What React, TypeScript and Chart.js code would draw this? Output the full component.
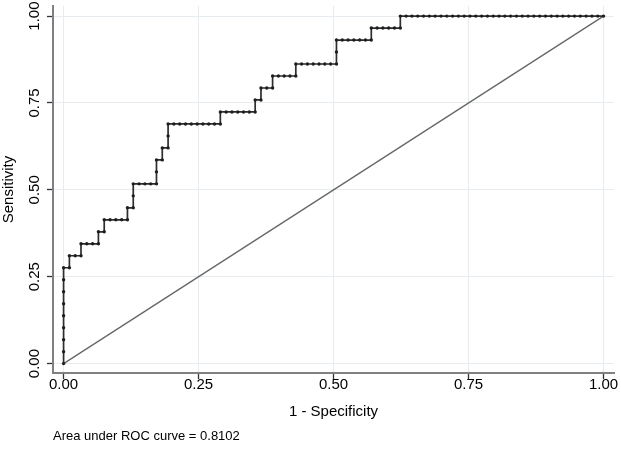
import React, { useEffect, useRef } from 'react';
import { Chart, registerables } from 'chart.js';

Chart.register(...registerables);

// ROC data: counts of false positives (out of 93 negatives) and true positives (out of 29 positives)
const N_NEG = 93;
const N_POS = 29;

const falsePositives = [
  0, 0, 0, 0, 0, 0, 0, 0, 0,
  1, 1,
  2, 3, 3,
  4, 5, 6, 6,
  7, 7,
  8, 9, 10, 11, 11,
  12, 12, 12,
  13, 14, 15, 16, 16, 16,
  17, 17,
  18, 18, 18,
  19, 20, 21, 22, 23, 24, 25, 26, 27, 27,
  28, 29, 30, 31, 32, 33, 33,
  34, 34,
  35, 36, 36,
  37, 38, 39, 40, 40,
  41, 42, 43, 44, 45, 46, 47, 47, 47,
  48, 49, 50, 51, 52, 53, 53,
  54, 55, 56, 57, 58, 58,
  59, 60, 61, 62, 63, 64, 65, 66, 67, 68, 69, 70, 71, 72, 73, 74, 75, 76, 77, 78,
  79, 80, 81, 82, 83, 84, 85, 86, 87, 88, 89, 90, 91, 92, 93,
];

const truePositives = [
  0, 1, 2, 3, 4, 5, 6, 7, 8,
  8, 9,
  9, 9, 10,
  10, 10, 10, 11,
  11, 12,
  12, 12, 12, 12, 13,
  13, 14, 15,
  15, 15, 15, 15, 16, 17,
  17, 18,
  18, 19, 20,
  20, 20, 20, 20, 20, 20, 20, 20, 20, 21,
  21, 21, 21, 21, 21, 21, 22,
  22, 23,
  23, 23, 24,
  24, 24, 24, 24, 25,
  25, 25, 25, 25, 25, 25, 25, 26, 27,
  27, 27, 27, 27, 27, 27, 28,
  28, 28, 28, 28, 28, 29,
  29, 29, 29, 29, 29, 29, 29, 29, 29, 29, 29, 29, 29, 29, 29, 29, 29, 29, 29, 29,
  29, 29, 29, 29, 29, 29, 29, 29, 29, 29, 29, 29, 29, 29, 29,
];

const referenceX = [0, 1];
const referenceY = [0, 1];

const tickValues = [0, 0.25, 0.5, 0.75, 1];
const tickLabels = ['0.00', '0.25', '0.50', '0.75', '1.00'];

const xTitle = '1 - Specificity';
const yTitle = 'Sensitivity';
const noteText = 'Area under ROC curve = 0.8102';

const FONT = "'Liberation Sans', Arial, Helvetica, sans-serif";

export default function App() {
  const ref = useRef<HTMLCanvasElement>(null);

  useEffect(() => {
    document.body.style.margin = '0';
    const canvas = ref.current;
    if (!canvas) return;

    const textPlugin = {
      id: 'stataText',
      afterDraw(chart: any) {
        const c = chart.ctx as CanvasRenderingContext2D;
        const ys = chart.scales.y;
        c.save();
        c.fillStyle = '#000';
        c.font = `15px ${FONT}`;
        c.textAlign = 'center';
        c.textBaseline = 'middle';
        tickValues.forEach((v, i) => {
          const py = ys.getPixelForValue(v);
          c.save();
          c.translate(35, py);
          c.rotate(-Math.PI / 2);
          c.fillText(tickLabels[i], 0, 0);
          c.restore();
        });
        c.font = `13px ${FONT}`;
        c.textAlign = 'left';
        c.fillText(noteText, 53, 436);
        c.restore();
      },
    };

    const rocPoints = falsePositives.map((fp, i) => ({ x: fp / N_NEG, y: truePositives[i] / N_POS }));
    const refPoints = referenceX.map((x, i) => ({ x, y: referenceY[i] }));

    const setTicks = (s: any) => {
      s.ticks = tickValues.map((v) => ({ value: v }));
    };

    const chart = new Chart(canvas, {
      type: 'scatter',
      data: {
        datasets: [
          {
            data: rocPoints,
            showLine: true,
            borderColor: '#2e2e2e',
            borderWidth: 1.7,
            pointRadius: 1.7,
            pointBackgroundColor: '#1e1e1e',
            pointBorderWidth: 0,
            order: 0,
          },
          {
            data: refPoints,
            showLine: true,
            borderColor: '#666666',
            borderWidth: 1.3,
            pointRadius: 0,
            order: 1,
          },
        ],
      },
      options: {
        responsive: false,
        devicePixelRatio: 1,
        animation: false,
        layout: { padding: { top: 6, right: 7, left: 0, bottom: 0 } },
        plugins: {
          legend: { display: false },
          tooltip: { enabled: false },
        },
        scales: {
          x: {
            type: 'linear',
            min: -0.0196,
            max: 1.0194,
            afterBuildTicks: setTicks,
            afterFit: (s: any) => {
              s.height = 77;
            },
            ticks: {
              autoSkip: false,
              maxRotation: 0,
              minRotation: 0,
              padding: -3,
              color: '#000',
              font: { family: FONT, size: 15 },
              callback: (_v: any, i: number) => tickLabels[i],
            },
            grid: {
              color: '#e6ecf0',
              lineWidth: 1,
              drawTicks: true,
              tickLength: 6,
              tickColor: '#333',
              tickWidth: 1.3,
            },
            border: { display: true, color: '#808080', width: 2 },
            title: {
              display: true,
              text: xTitle,
              color: '#000',
              font: { family: FONT, size: 15 },
              padding: { top: 0, bottom: 29 },
            },
          },
          y: {
            type: 'linear',
            min: -0.027,
            max: 1.029,
            afterBuildTicks: setTicks,
            afterFit: (s: any) => {
              s.width = 53;
            },
            ticks: { display: false },
            grid: {
              color: '#e6ecf0',
              lineWidth: 1,
              drawTicks: true,
              tickLength: 6,
              tickColor: '#333',
              tickWidth: 1.3,
            },
            border: { display: true, color: '#808080', width: 2 },
            title: {
              display: true,
              text: yTitle,
              color: '#000',
              font: { family: FONT, size: 15 },
              padding: { top: 0, bottom: 0 },
            },
          },
        },
      },
      plugins: [textPlugin],
    } as any);

    return () => chart.destroy();
  }, []);

  return (
    <div style={{ position: 'absolute', left: 0, top: 0, width: 621, height: 450, background: '#fff' }}>
      <canvas ref={ref} width={621} height={450} style={{ display: 'block', width: 621, height: 450 }} />
    </div>
  );
}
